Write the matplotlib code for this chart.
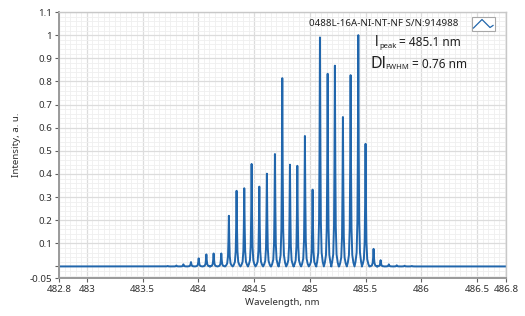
import matplotlib
matplotlib.use("Agg")
import matplotlib.pyplot as plt
from matplotlib.patches import Rectangle
from matplotlib.lines import Line2D
import numpy as np

# peak centres (nm) and heights (a.u.)
centres = [483.725, 483.803, 483.866, 483.934, 484.003, 484.072, 484.137, 484.206,
           484.274, 484.343, 484.412, 484.478, 484.547, 484.615, 484.687, 484.753,
           484.822, 484.888, 484.956, 485.025, 485.091, 485.160, 485.225, 485.297,
           485.366, 485.435, 485.500, 485.572, 485.635, 485.709, 485.780, 485.850,
           485.915]
heights = [0.002, 0.004, 0.009, 0.019, 0.035, 0.052, 0.056, 0.056,
           0.219, 0.327, 0.338, 0.443, 0.345, 0.401, 0.486, 0.814,
           0.440, 0.435, 0.564, 0.332, 0.990, 0.833, 0.868, 0.646,
           0.827, 1.000, 0.530, 0.076, 0.027, 0.009, 0.005, 0.003,
           0.002]

x_range = (482.75, 486.76)
xticks = [482.75, 483, 483.5, 484, 484.5, 485, 485.5, 486, 486.5, 486.76]
xlabels = ["482.8", "483", "483.5", "484", "484.5", "485", "485.5", "486", "486.5", "486.8"]
yticks = [-0.05, 0, 0.1, 0.2, 0.3, 0.4, 0.5, 0.6, 0.7, 0.8, 0.9, 1, 1.1]
ylabels = ["-0.05", "", "0.1", "0.2", "0.3", "0.4", "0.5", "0.6", "0.7", "0.8", "0.9", "1", "1.1"]

# line shape of one comb line (offset in nm, fraction of peak height)
shape_dx = [-0.034, -0.025, -0.015, -0.008, -0.004, 0.0, 0.004, 0.008, 0.015, 0.025, 0.034]
shape_f = [0.0, 0.02, 0.06, 0.2, 0.5, 1.0, 0.5, 0.2, 0.06, 0.02, 0.0]

xs = [x_range[0]]
ys = [0.0]
for c, h in zip(centres, heights):
    for dx, f in zip(shape_dx, shape_f):
        xs.append(c + dx)
        ys.append(h * f)
xs.append(x_range[1])
ys.append(0.0)

plt.rcParams['font.family'] = ['Noto Sans', 'DejaVu Sans']
fig = plt.figure(figsize=(5.25, 3.16), dpi=100)
ax = fig.add_axes([59/525, 1 - 278/316, 447/525, 266/316])

ax.plot(xs, ys, color="#2166ac", lw=1.4)

ax.set_xlim(*x_range)
ax.set_ylim(-0.05, 1.1)
ax.set_xticks(xticks)
ax.set_xticklabels(xlabels)
ax.set_yticks(yticks)
ax.set_yticklabels(ylabels)
ax.set_xticks(np.arange(482.8, 486.76, 0.05), minor=True)
ax.set_yticks(np.arange(-0.04, 1.1, 0.02), minor=True)
ax.tick_params(which="major", direction="out", length=3, width=0.8, color="#606060",
               labelsize=7, labelcolor="#303030", pad=2)
ax.tick_params(which="minor", length=0)
ax.grid(which="major", color="#dcdcdc", lw=0.9)
ax.grid(which="minor", color="#efefef", lw=0.6)
ax.set_axisbelow(True)
for s in ["left", "bottom"]:
    ax.spines[s].set_color("#9a9a9a")
    ax.spines[s].set_linewidth(1.4)
for s in ["top", "right"]:
    ax.spines[s].set_color("#c8c8c8")
    ax.spines[s].set_linewidth(1.0)

ax.set_xlabel("Wavelength, nm", fontsize=7, color="#303030", labelpad=3)
ax.set_ylabel("Intensity, a. u.", fontsize=7, color="#303030", labelpad=6)


def ftext(x, y, s, size):
    fig.text(x/525, 1 - y/316, s, fontsize=size, color="#202020", va="center", ha="left")


# legend label and glyph
ftext(309, 23, "0488L-16A-NI-NT-NF S/N:914988", 7)
fig.patches.append(Rectangle((471.5/525, 1 - 30.5/316), 23/525, 13.5/316,
                             transform=fig.transFigure, fill=True, fc="white",
                             ec="#a8a8a8", lw=0.8))
gx = [473.5, 482, 490, 493]
gy = [28, 19.5, 27.5, 25.5]
fig.lines.append(Line2D([v/525 for v in gx], [1 - v/316 for v in gy],
                        transform=fig.transFigure, color="#2166ac", lw=0.9))

# peak and width annotations
ftext(375, 43, "l", 10)
ftext(379, 46.5, "peak", 5.5)
ftext(399, 43, "= 485.1 nm", 8.5)
ftext(370, 64, "Dl", 11.5)
ftext(385, 67.5, "FWHM", 5.5)
ftext(412, 64, "= 0.76 nm", 8.5)

fig.savefig("out.png", dpi=100, facecolor="white")
